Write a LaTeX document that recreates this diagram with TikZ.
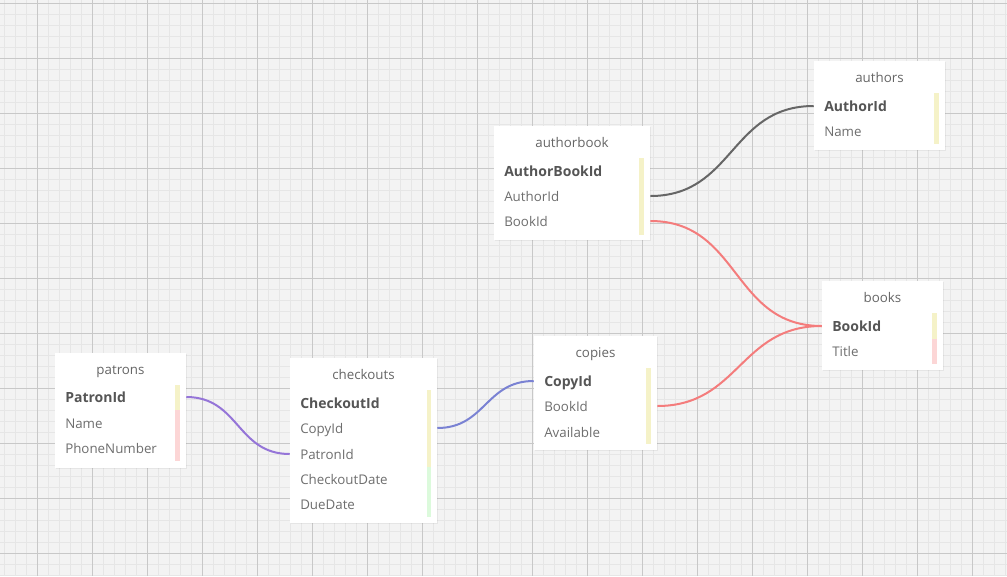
\documentclass[tikz,border=0pt]{standalone}
\usepackage{fontspec}
\setmainfont{Open Sans}
\usetikzlibrary{positioning,fit,shadows,calc}
\definecolor{paper}{HTML}{F3F3F3}
\definecolor{minorline}{HTML}{E6E6E6}
\definecolor{majorline}{HTML}{C8C8C8}
\definecolor{titlegray}{HTML}{666666}
\definecolor{keygray}{HTML}{555555}
\definecolor{fieldgray}{HTML}{6E6E6E}
\definecolor{keybar}{HTML}{F5F2C8}
\definecolor{textbar}{HTML}{FCD6D6}
\definecolor{datebar}{HTML}{DCFADC}
\definecolor{graylink}{HTML}{666666}
\definecolor{salmonlink}{HTML}{F47C7C}
\definecolor{bluelink}{HTML}{7A82D3}
\definecolor{purplelink}{HTML}{9575D8}

\begin{document}
\begin{tikzpicture}[x=0.75pt,y=-0.75pt,
    tbl/.style={fill=white, inner sep=0pt,
      drop shadow={opacity=0.12, shadow xshift=0.8pt, shadow yshift=-0.8pt}},
    ttl/.style={inner sep=0pt, text height=8.5pt, text depth=1pt, text=titlegray, font=\fontsize{10}{12}\selectfont},
    key/.style={anchor=west, inner sep=0pt, text height=8.5pt, text depth=1pt, text=keygray, font=\bfseries\fontsize{10.5}{12}\selectfont},
    fld/.style={anchor=west, inner sep=0pt, text height=8.5pt, text depth=1pt, text=fieldgray, font=\fontsize{10}{12}\selectfont},
    link/.style={line width=1.5pt, out=0, in=180, looseness=1.15}]

    % background and grid
    \fill[paper] (0,0) rectangle (1007,576);
    \useasboundingbox (0,0) rectangle (1007,576);
    \foreach \gx in {4.3,15.3,...,1007} \draw[minorline, line width=0.75pt] (\gx,0) -- (\gx,576);
    \foreach \gy in {3.3,14.3,...,576} \draw[minorline, line width=0.75pt] (0,\gy) -- (1007,\gy);
    \foreach \gx in {37.3,92.3,...,1007} \draw[majorline, line width=0.75pt] (\gx,0) -- (\gx,576);
    \foreach \gy in {3.3,58.3,...,576} \draw[majorline, line width=0.75pt] (0,\gy) -- (1007,\gy);

    % patrons
    \node[tbl, fit={(55,353) (186,468)}] (patrons) {};
    \node[ttl] (patronsTitle) at (120.5,369) {patrons};
    \node[key] (patronsPatronId) at (65,397) {PatronId};
    \node[fld] (patronsName) at (65,423) {Name};
    \node[fld] (patronsPhone) at (65,448) {PhoneNumber};
    \fill[keybar] (175,385) rectangle (180,410);
    \fill[textbar] (175,410) rectangle (180,461);

    % checkouts
    \node[tbl, fit={(290,358) (437,523)}] (checkouts) {};
    \node[ttl] (checkoutsTitle) at (363.5,374) {checkouts};
    \node[key] (checkoutsCheckoutId) at (300,403) {CheckoutId};
    \node[fld] (checkoutsCopyId) at (300,428) {CopyId};
    \node[fld] (checkoutsPatronId) at (300,454) {PatronId};
    \node[fld] (checkoutsCheckoutDate) at (300,479) {CheckoutDate};
    \node[fld] (checkoutsDueDate) at (300,504) {DueDate};
    \fill[keybar] (426.5,390) rectangle (431,466.5);
    \fill[datebar] (426.5,466.5) rectangle (431,517);

    % copies
    \node[tbl, fit={(534,336) (657,450)}] (copies) {};
    \node[ttl] (copiesTitle) at (595.5,352) {copies};
    \node[key] (copiesCopyId) at (544,381) {CopyId};
    \node[fld] (copiesBookId) at (544,406) {BookId};
    \node[fld] (copiesAvailable) at (544,432) {Available};
    \fill[keybar] (646,368) rectangle (650.5,444);

    % authorbook
    \node[tbl, fit={(494,126) (650,240)}] (authorbook) {};
    \node[ttl] (authorbookTitle) at (572,142) {authorbook};
    \node[key] (authorbookAuthorBookId) at (504,171) {AuthorBookId};
    \node[fld] (authorbookAuthorId) at (504,196) {AuthorId};
    \node[fld] (authorbookBookId) at (504,221) {BookId};
    \fill[keybar] (639,158) rectangle (643.5,234.5);

    % authors
    \node[tbl, fit={(814,61) (945,150)}] (authors) {};
    \node[ttl] (authorsTitle) at (879.5,77) {authors};
    \node[key] (authorsAuthorId) at (824,106) {AuthorId};
    \node[fld] (authorsName) at (824,131) {Name};
    \fill[keybar] (934,93) rectangle (938.5,144);

    % books
    \node[tbl, fit={(822,281) (943,370)}] (books) {};
    \node[ttl] (booksTitle) at (882.5,297) {books};
    \node[key] (booksBookId) at (832,326) {BookId};
    \node[fld] (booksTitleField) at (832,351) {Title};
    \fill[keybar] (932,313) rectangle (936.5,338.5);
    \fill[textbar] (932,338.5) rectangle (936.5,364);

    % relations
    \draw[link, graylink] (authorbook.east |- authorbookAuthorId) to (authors.west |- authorsAuthorId);
    \draw[link, salmonlink] (authorbook.east |- authorbookBookId) to (books.west |- booksBookId);
    \draw[link, salmonlink] (copies.east |- copiesBookId) to (books.west |- booksBookId);
    \draw[link, bluelink] (checkouts.east |- checkoutsCopyId) to (copies.west |- copiesCopyId);
    \draw[link, purplelink] (patrons.east |- patronsPatronId) to (checkouts.west |- checkoutsPatronId);
\end{tikzpicture}
\end{document}
